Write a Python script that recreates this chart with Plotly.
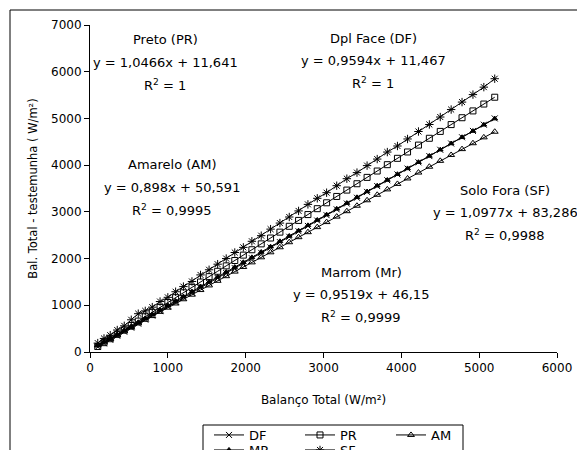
import plotly.graph_objects as go

# ---------------- data ----------------
x_vals = [100, 180, 260, 350, 440, 530, 620, 710, 800, 900, 1000, 1100, 1200, 1310, 1420,
          1530, 1640, 1750, 1860, 1970, 2080, 2200, 2320, 2440, 2560, 2680, 2800, 2920,
          3040, 3170, 3300, 3430, 3560, 3690, 3820, 3950, 4080, 4220, 4360, 4500, 4640,
          4780, 4920, 5060, 5200]

df_vals = [107, 184, 261, 347, 434, 520, 606, 693, 779, 875, 971, 1067, 1163, 1268, 1374,
           1479, 1585, 1690, 1796, 1901, 2007, 2122, 2237, 2352, 2467, 2583, 2698, 2813,
           2928, 3053, 3177, 3302, 3427, 3552, 3676, 3801, 3926, 4060, 4194, 4329, 4463,
           4597, 4732, 4866, 5000]

pr_vals = [117, 200, 284, 378, 472, 567, 661, 755, 849, 954, 1059, 1163, 1268, 1383, 1498,
           1613, 1728, 1844, 1959, 2074, 2189, 2315, 2440, 2566, 2691, 2817, 2942, 3068,
           3194, 3330, 3466, 3602, 3738, 3874, 4010, 4146, 4282, 4429, 4575, 4722, 4868,
           5015, 5161, 5308, 5454]

am_vals = [141, 205, 280, 360, 440, 520, 610, 689, 769, 859, 949, 1039, 1129, 1227, 1326,
           1425, 1524, 1623, 1721, 1820, 1919, 2027, 2134, 2242, 2350, 2458, 2565, 2673,
           2781, 2898, 3014, 3131, 3248, 3365, 3481, 3598, 3715, 3841, 3966, 4092, 4218,
           4343, 4469, 4595, 4715]

mr_vals = [141, 217, 294, 379, 465, 550, 636, 722, 808, 903, 998, 1093, 1188, 1293, 1398,
           1502, 1607, 1712, 1817, 1921, 2026, 2140, 2254, 2369, 2483, 2597, 2711, 2826,
           2940, 3064, 3187, 3311, 3435, 3559, 3682, 3806, 3930, 4063, 4196, 4330, 4463,
           4596, 4729, 4863, 4996]

sf_vals = [190, 290, 360, 470, 560, 690, 820, 880, 960, 1080, 1170, 1290, 1400, 1510, 1650,
           1760, 1880, 2000, 2130, 2240, 2370, 2490, 2630, 2760, 2890, 3020, 3160, 3290,
           3410, 3560, 3710, 3840, 3990, 4130, 4280, 4410, 4560, 4720, 4870, 5030, 5190,
           5350, 5510, 5670, 5850]

series_names = ["DF", "PR", "AM", "MR", "SF"]
series_values = [df_vals, pr_vals, am_vals, mr_vals, sf_vals]
series_symbols = ["x-thin-open", "square-open", "triangle-up-open", "triangle-up", "asterisk-open"]
series_sizes = [6, 6, 6, 5, 7]
series_legend = ["legend", "legend", "legend", "legend2", "legend2"]

x_ticks = [0, 1000, 2000, 3000, 4000, 5000, 6000]
y_ticks = [0, 1000, 2000, 3000, 4000, 5000, 6000, 7000]

annotations_text = [
    ("Preto (PR)", "y = 1,0466x + 11,641", "R<sup>2</sup> = 1", 165, 40),
    ("Dpl Face (DF)", "y = 0,9594x + 11,467", "R<sup>2</sup> = 1", 373, 38),
    ("Amarelo (AM)", "y = 0,898x + 50,591", "R<sup>2</sup> = 0,9995", 172, 165),
    ("Solo Fora (SF)", "y = 1,0977x + 83,286", "R<sup>2</sup> = 0,9988", 505, 190),
    ("Marrom (Mr)", "y = 0,9519x + 46,15", "R<sup>2</sup> = 0,9999", 361, 272),
]

# ---------------- figure ----------------
W, H = 577, 450
L, R, T, B = 90, 20, 25, 98
PW, PH = W - L - R, H - T - B
FONT = "DejaVu Sans, Liberation Sans, Arial, sans-serif"


def px2paper_x(px):
    return (px - L) / PW


def px2paper_y(py):
    return (H - B - py) / PH


fig = go.Figure()
for name, vals, sym, sz, lg in zip(series_names, series_values, series_symbols,
                                   series_sizes, series_legend):
    fig.add_trace(go.Scatter(
        x=x_vals, y=vals, name=name, mode="lines+markers", legend=lg,
        line=dict(color="black", width=1),
        marker=dict(symbol=sym, size=sz, color="black", line=dict(color="black", width=1)),
    ))

annots = []
for title, eq, r2, cx, cy in annotations_text:
    for i, txt in enumerate([title, eq, r2]):
        annots.append(dict(
            x=px2paper_x(cx), y=px2paper_y(cy + i * 22.5), xref="paper", yref="paper",
            text=txt, showarrow=False, xanchor="center", yanchor="middle",
            font=dict(family=FONT, size=13, color="black"),
        ))

legend_common = dict(
    orientation="h", xanchor="left", yanchor="top",
    borderwidth=0, bgcolor="rgba(0,0,0,0)",
    font=dict(family=FONT, size=13, color="black"),
    entrywidth=46, entrywidthmode="pixels", itemwidth=30,
)

fig.update_layout(
    width=W, height=H,
    margin=dict(l=L, r=R, t=T, b=B, autoexpand=False),
    paper_bgcolor="white", plot_bgcolor="white",
    font=dict(family=FONT, size=13, color="black"),
    showlegend=True,
    legend=dict(x=px2paper_x(209), y=px2paper_y(420), **legend_common),
    legend2=dict(x=px2paper_x(209), y=px2paper_y(435), **legend_common),
    annotations=annots,
    shapes=[
        dict(type="rect", xref="paper", yref="paper",
             x0=px2paper_x(10), x1=px2paper_x(620), y0=px2paper_y(480), y1=px2paper_y(10),
             line=dict(color="black", width=1), fillcolor="rgba(0,0,0,0)", layer="below"),
        dict(type="rect", xref="paper", yref="paper",
             x0=px2paper_x(203), x1=px2paper_x(463), y0=px2paper_y(470), y1=px2paper_y(425),
             line=dict(color="black", width=1), fillcolor="white", layer="below"),
    ],
)

fig.update_xaxes(
    range=[0, 6000], tickvals=x_ticks, ticktext=[str(v) for v in x_ticks],
    showgrid=False, zeroline=False, showline=True, linecolor="black", linewidth=1,
    ticks="outside", ticklen=5, tickcolor="black", tickfont=dict(size=12),
    title=dict(text="Balanço Total (W/m²)", font=dict(size=12), standoff=21),
)
fig.update_yaxes(
    range=[0, 7000], tickvals=y_ticks, ticktext=[str(v) for v in y_ticks],
    showgrid=False, zeroline=False, showline=True, linecolor="black", linewidth=1,
    ticks="outside", ticklen=5, tickcolor="black", tickfont=dict(size=12),
    title=dict(text="Bal. Total - testemunha ( W/m²)", font=dict(size=11.5), standoff=11),
)

fig.write_html("out.html", config={"displayModeBar": False},
               post_script="document.body.style.margin='0';")
